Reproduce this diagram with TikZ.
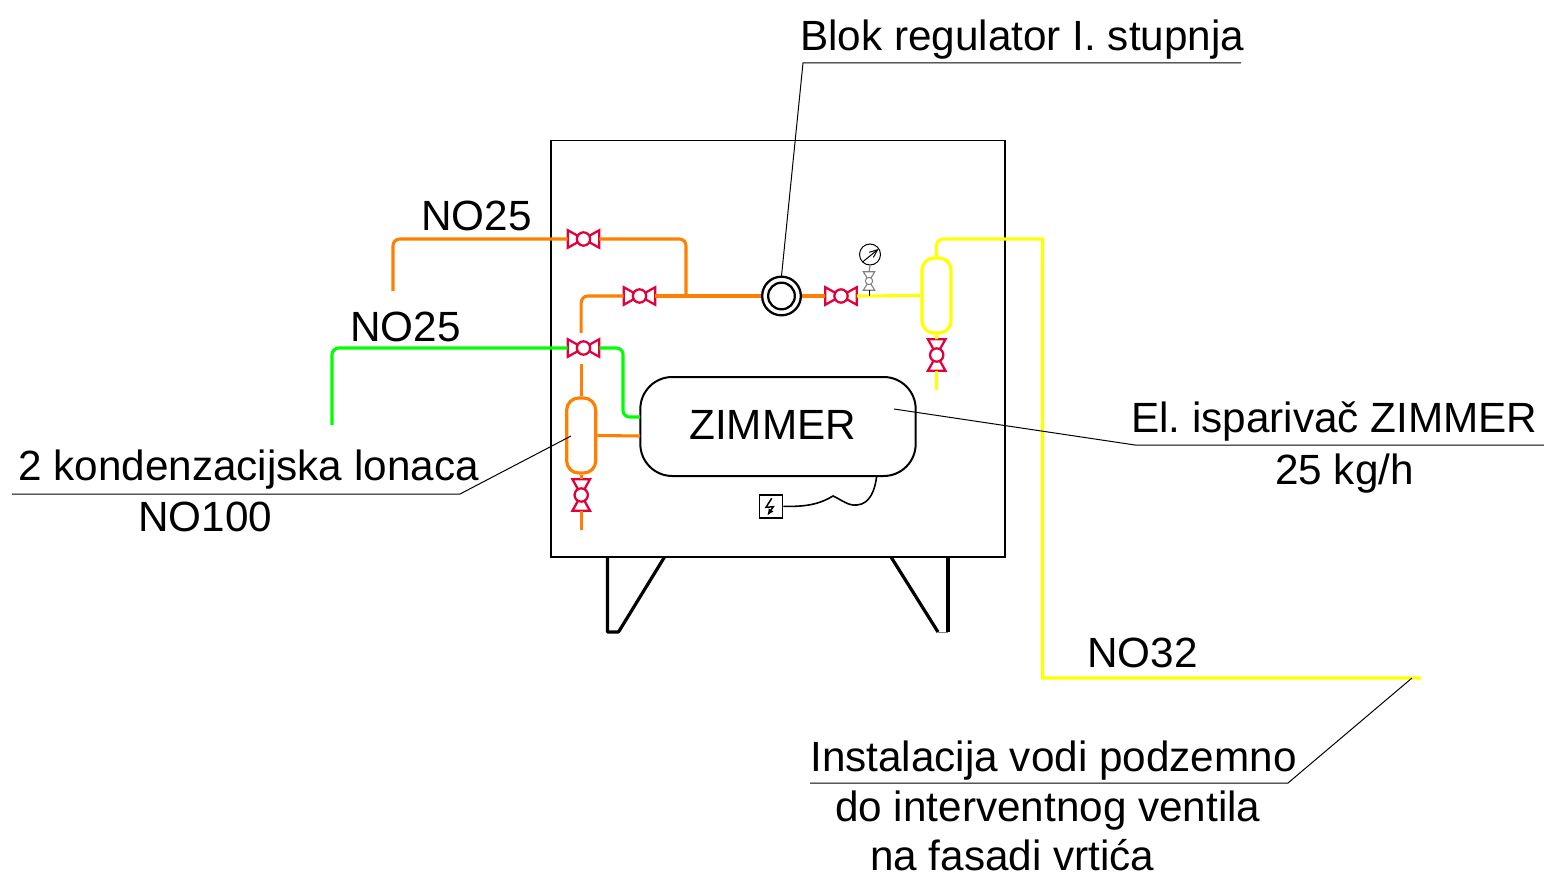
\documentclass[tikz,border=0pt]{standalone}
\usepackage{fontspec}
\setmainfont{Liberation Sans}
\usetikzlibrary{arrows.meta}
\definecolor{pipeorange}{RGB}{255,128,0}
\definecolor{pipeyellow}{RGB}{255,255,0}
\definecolor{pipegreen}{RGB}{0,255,0}
\definecolor{valvered}{RGB}{224,0,60}
\tikzset{
  label/.style={anchor=base west,inner sep=0pt,font=\fontsize{31.7}{38}\selectfont\frenchspacing},
  leader/.style={draw=black,line width=0.75pt},
  orangepipe/.style={draw=pipeorange,line width=2.3pt,rounded corners=5pt},
  yellowpipe/.style={draw=pipeyellow,line width=2.3pt,rounded corners=5pt},
  greenpipe/.style={draw=pipegreen,line width=2.3pt,rounded corners=5pt},
  valvebox/.style={rectangle,inner sep=0pt,minimum width=23.25pt,minimum height=12.75pt},
  valveball/.style={circle,draw=valvered,fill=white,line width=1.7pt,inner sep=0pt,minimum size=10pt},
  vessel/.style={rectangle,rounded corners=9pt,line width=2.4pt,fill=white,inner sep=0pt,minimum width=21.75pt,minimum height=56.25pt},
  leg/.style={line width=2.4pt,line join=round}
}
% valve: name, x, y, rotation
\newcommand{\valvesym}[4]{%
  \node[valvebox,rotate=#4] (#1) at (#2,#3) {};
  \draw[valvered,line width=1.7pt,line join=miter] (#1.north west) -- (#1.south east) -- (#1.north east) -- (#1.south west) -- cycle;
  \node[valveball] (#1ball) at (#1) {};
}
\begin{document}
\begin{tikzpicture}[x=0.75pt,y=0.75pt,yscale=-1,xscale=1]
\useasboundingbox (0,0) rectangle (1544,877);

% Cabinet
\draw [line width=1.1pt] (551,140.5) rectangle (1005,557);
% Legs
\draw [leg] (607.5,557) -- (607.5,632) -- (618.5,632) -- (664.5,557);
\draw [leg] (891,557) -- (938,632);
\draw [leg] (948,557) -- (948,632);
\draw [line width=0.5pt,gray] (938,632) -- (948,632);

% Evaporator
\node [draw=black,rectangle,rounded corners=24pt,line width=1.5pt,inner sep=0pt,minimum width=206.5pt,minimum height=74.25pt] (zimmerbox) at (778,426.5) {};
% Vessels
\node [vessel,draw=pipeorange] (condpot) at (581.2,435.5) {};
\node [vessel,draw=pipeyellow] (yellowpot) at (936.5,295.5) {};
% Regulator
\node [circle,draw=black,line width=1.7pt,inner sep=0pt,minimum size=29pt] (regulator) at (781.5,296) {};
\node [circle,draw=black,line width=1.7pt,inner sep=0pt,minimum size=20pt] (regulatorin) at (781.5,296) {};

% Valves
\valvesym{vtop}{583.5}{239}{0}
\valvesym{vmid}{639.5}{296}{0}
\valvesym{vgreen}{583.5}{348}{0}
\valvesym{vreg}{841}{296}{0}
\valvesym{vyellow}{936.7}{355}{90}
\valvesym{vcond}{581.2}{495}{90}

% Free ends of the pipes
\coordinate (orangeend) at (393,291);
\coordinate (greenend) at (332,425);
\coordinate (junction) at (686,296);
\coordinate (yellowend) at (1421,678);
\coordinate (yellowdrain) at (936.7,390);
\coordinate (conddrain) at (581.2,530);
\coordinate (greenin) at (640,417);

% Orange pipes
\draw [orangepipe] (orangeend) |- (vtop.west);
\draw [orangepipe] (vtop.east) -| (junction);
\draw [orangepipe] (581.2,333) |- (vmid.west);
\draw [orangepipe,rounded corners=0pt] (vmid.east) -- (regulator.west);
\draw [orangepipe,rounded corners=0pt] (regulator.east) -- (vreg.west);
\draw [orangepipe,rounded corners=0pt] (581.2,364) -- (condpot.north);
\draw [orangepipe,rounded corners=0pt] (condpot.south) -- (vcond.east);
\draw [orangepipe,rounded corners=0pt] (vcond.west) -- (conddrain);
\draw [orangepipe,rounded corners=0pt] (condpot.east) -- (640,436);
% Green pipes
\draw [greenpipe] (greenend) |- (vgreen.west);
\draw [greenpipe] (vgreen.east) -| (623,380) |- (greenin);
% Yellow pipes
\draw [yellowpipe,rounded corners=0pt] (vreg.east) -- (yellowpot.west);
\draw [yellowpipe] (yellowpot.north) -- (936.5,239) [sharp corners] -- (1042.5,239) -- (1042.5,678) -- (yellowend);
\draw [yellowpipe,rounded corners=0pt] (yellowpot.south) -- (vyellow.east);
\draw [yellowpipe,rounded corners=0pt] (vyellow.west) -- (yellowdrain);

% Gauge
\node [circle,draw=black,line width=0.75pt,inner sep=0pt,minimum size=15.75pt] (gauge) at (870,254.5) {};
\draw [line width=0.75pt,-{Straight Barb[length=6pt,width=5pt]}] (862.5,262) -- (878.5,249);
\node [valvebox,rotate=90,minimum width=13.5pt,minimum height=8.25pt] (vgauge) at (869,281) {};
\draw [gray,line width=0.8pt] (vgauge.north west) -- (vgauge.south east) -- (vgauge.north east) -- (vgauge.south west) -- cycle;
\node [circle,draw=gray,fill=white,line width=0.8pt,inner sep=0pt,minimum size=5.5pt] (vgaugeball) at (vgauge) {};
\draw [gray,line width=0.9pt] (gauge.south) -- (vgauge.east);
\draw [line width=0.75pt] (vgauge.west) -- (869,296);

% Power box
\node [draw=black,rectangle,line width=1.3pt,inner sep=0pt,minimum size=17.25pt] (powerbox) at (771,506.3) {};
\draw [line width=1.1pt,-{Latex[length=5pt,width=4.5pt]}] (771.7,498.3) -- (766,507.3) -- (773.3,506.7) -- (767.3,515.5);
\draw [line width=1.2pt] (powerbox.east) .. controls (806,507) and (820,504) .. (833,496) .. controls (842,500) and (848,506) .. (857,505) .. controls (870,504) and (875,490) .. (876.7,476);

% Leaders
\coordinate (blokend) at (781.5,276);
\coordinate (blokbreak) at (803,63);
\draw [leader] (1241,63) -- (blokbreak) -- (blokend);
\draw [leader] (1544,445) -- (1135,445) -- (894,409);
\draw [leader] (12,494) -- (460,494) -- (571,436);
\draw [leader] (810,783) -- (1288,783) -- (1412,678);

% Text Node
\node [label] (blokt) at (800,50.5) {Blok regulator I. stupnja};
\node [label] (no25a) at (421,230.5) {NO25};
\node [label] (no25b) at (350,341.5) {NO25};
\node [label] (kondt) at (18,480.5) {2 kondenzacijska lonaca};
\node [label] (no100) at (138,531.5) {NO100};
\node [label] (zimmert) at (689,439.5) {ZIMMER};
\node [label] (isparivac) at (1131,432.5) {El. isparivač ZIMMER};
\node [label] (kgh) at (1275,484.5) {25 kg/h};
\node [label] (no32) at (1087,667.5) {NO32};
\node [label] (inst) at (810,771.3) {Instalacija vodi podzemno};
\node [label] (dotxt) at (835,821.3) {do interventnog ventila};
\node [label] (natxt) at (870,870.5) {na fasadi vrtića};

\end{tikzpicture}
\end{document}
